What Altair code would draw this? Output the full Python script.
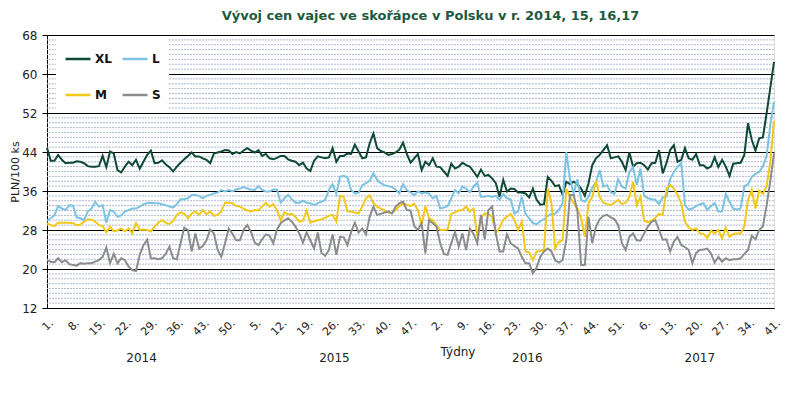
import altair as alt
import pandas as pd

# --- data (weekly prices, PLN/100 ks), 2014 w1 .. 2017 w41 ---
years = [2014] * 52 + [2015] * 52 + [2016] * 52 + [2017] * 41

xl = [44.9, 42.2, 42.2, 43.4, 42.4, 41.7, 41.8, 41.8, 42.1, 42.0,
      41.7, 41.1, 41.0, 41.0, 41.1, 43.2, 40.9, 44.1, 43.7, 40.3,
      39.8, 41.0, 42.0, 41.3, 42.4, 40.6, 42.0, 43.4, 44.3, 41.7,
      41.8, 42.3, 41.5, 40.9, 40.0, 41.0, 41.8, 42.5, 43.2, 43.9,
      43.1, 43.1, 42.7, 42.4, 41.7, 43.7, 43.9, 44.1, 44.4, 44.3,
      43.6, 44.0, 43.7, 44.3, 44.8, 44.3, 43.9, 44.4, 43.2, 43.6,
      42.7, 42.5, 42.8, 43.2, 43.2, 42.5, 42.2, 42.0, 41.3, 41.8,
      40.6, 40.1, 42.2, 43.1, 42.9, 42.7, 42.9, 44.8, 42.0, 43.2,
      43.2, 43.7, 43.6, 45.5, 44.1, 42.7, 42.9, 45.8, 47.8, 44.8,
      44.2, 43.9, 43.4, 43.6, 43.9, 44.5, 45.9, 43.6, 41.8, 42.7,
      43.6, 40.3, 42.0, 41.3, 42.7, 41.0, 40.9, 40.0, 39.1, 41.6,
      40.6, 41.0, 41.8, 41.3, 41.0, 40.0, 38.9, 40.4, 39.1, 39.3,
      38.6, 37.6, 34.8, 38.3, 35.9, 36.5, 36.4, 35.7, 35.7, 35.5,
      34.7, 36.5, 34.2, 33.2, 33.3, 38.9, 38.1, 37.0, 37.2, 35.2,
      37.9, 37.4, 37.9, 37.4, 36.5, 35.0, 37.6, 41.3, 42.7, 43.4,
      44.4, 45.4, 42.7, 42.9, 43.1, 42.0, 40.3, 43.9, 41.0, 41.7,
      41.8, 41.3, 40.4, 41.7, 41.8, 44.4, 39.6, 41.7, 44.4, 45.4,
      42.0, 42.4, 44.8, 42.7, 42.4, 43.6, 41.3, 41.3, 40.6, 41.0,
      42.9, 40.9, 42.4, 41.0, 39.1, 41.6, 41.7, 41.8, 43.4, 49.9,
      46.5, 44.3, 46.8, 47.0, 51.9, 57.1, 62.5]

l = [29.9, 30.4, 31.0, 32.9, 32.4, 32.1, 33.1, 33.0, 30.6, 30.4,
     30.0, 31.8, 32.4, 33.8, 32.8, 33.1, 29.5, 32.1, 31.8, 30.7,
     31.0, 31.8, 32.1, 32.4, 32.4, 32.8, 33.3, 33.5, 33.6, 33.5,
     33.5, 33.3, 33.1, 32.8, 32.6, 33.3, 34.3, 34.3, 34.5, 35.2,
     35.2, 35.0, 34.5, 35.0, 35.2, 35.5, 35.7, 36.2, 35.9, 36.2,
     35.9, 36.3, 36.5, 36.8, 36.5, 36.3, 36.2, 37.0, 36.2, 35.9,
     35.9, 36.3, 36.3, 33.6, 34.5, 35.2, 34.3, 33.6, 33.6, 34.0,
     33.6, 33.5, 33.1, 33.5, 33.8, 34.2, 36.2, 37.4, 35.4, 38.9,
     39.1, 38.8, 36.2, 35.5, 35.6, 37.2, 37.6, 38.1, 39.6, 38.3,
     37.6, 37.2, 37.0, 36.8, 36.3, 35.5, 37.4, 36.2, 35.7, 35.2,
     35.9, 35.5, 35.7, 35.5, 34.5, 35.0, 32.4, 32.6, 32.9, 34.5,
     36.2, 35.5, 36.9, 36.5, 35.7, 36.9, 37.7, 34.8, 34.8, 35.0,
     34.8, 35.0, 34.2, 35.4, 34.5, 34.3, 31.4, 31.8, 34.8, 31.3,
     30.4, 29.4, 29.2, 29.8, 30.2, 30.9, 31.3, 31.4, 32.1, 33.5,
     44.0, 38.4, 35.5, 38.4, 34.2, 33.8, 34.8, 36.7, 37.7, 40.3,
     36.9, 37.2, 35.7, 35.4, 38.4, 36.9, 36.5, 39.9, 40.9, 37.2,
     40.6, 35.0, 34.5, 34.3, 34.2, 33.3, 34.7, 34.8, 38.4, 39.9,
     41.0, 41.7, 33.1, 32.2, 32.4, 32.9, 33.3, 33.5, 32.1, 32.9,
     33.5, 31.8, 31.8, 35.4, 33.8, 32.4, 32.2, 32.4, 37.0, 37.4,
     38.9, 39.5, 39.9, 41.0, 43.1, 49.5, 54.3]

m = [29.4, 29.0, 28.8, 29.5, 29.5, 29.5, 29.5, 29.4, 29.0, 29.1,
     29.7, 30.2, 30.1, 29.7, 29.0, 28.8, 27.5, 28.7, 27.7, 27.9,
     28.3, 27.7, 28.3, 27.3, 29.4, 28.0, 28.1, 28.0, 27.7, 28.7,
     29.5, 30.0, 29.5, 29.2, 29.9, 31.1, 31.6, 31.3, 30.4, 31.4,
     31.8, 31.1, 32.1, 31.2, 31.8, 30.9, 31.1, 31.8, 33.6, 33.6,
     33.5, 32.9, 32.8, 32.4, 32.0, 31.8, 32.1, 32.0, 32.8, 33.6,
     32.8, 33.3, 32.1, 30.0, 31.6, 31.2, 31.3, 30.7, 29.7, 29.9,
     32.0, 29.5, 29.8, 30.0, 30.2, 30.5, 30.9, 31.1, 29.7, 35.0,
     34.8, 31.8, 31.8, 31.6, 31.4, 32.8, 34.5, 35.1, 33.5, 32.8,
     32.4, 32.0, 31.6, 31.4, 32.1, 32.9, 33.5, 33.2, 32.9, 33.4,
     32.1, 29.0, 32.9, 30.4, 30.0, 29.0, 28.0, 28.0, 28.1, 31.3,
     31.6, 32.0, 32.1, 32.8, 31.8, 32.4, 26.7, 30.4, 31.4, 31.3,
     30.7, 27.3, 28.5, 30.1, 30.7, 31.3, 30.1, 28.0, 29.7, 23.6,
     23.4, 21.8, 23.6, 23.7, 23.9, 36.5, 33.5, 24.2, 25.6, 25.9,
     36.5, 34.8, 33.5, 32.4, 30.4, 26.6, 33.5, 34.8, 38.1, 34.8,
     33.6, 33.3, 33.1, 33.6, 34.2, 33.3, 33.6, 34.8, 37.9, 33.1,
     34.8, 29.9, 29.6, 29.9, 30.5, 31.3, 31.1, 36.5, 37.2, 36.5,
     35.2, 33.5, 29.7, 28.5, 28.0, 28.3, 27.3, 27.2, 26.3, 27.9,
     27.3, 28.0, 26.3, 28.5, 26.6, 27.2, 27.3, 27.3, 28.7, 34.2,
     36.2, 32.4, 36.1, 35.4, 37.0, 42.0, 50.4]

s = [21.8, 21.5, 21.4, 22.2, 21.4, 21.8, 21.0, 20.8, 20.7, 21.2,
     21.1, 21.2, 21.2, 21.5, 21.8, 22.5, 24.4, 21.2, 23.1, 21.2,
     22.2, 21.8, 20.5, 19.8, 19.6, 22.9, 24.9, 26.0, 22.2, 22.2,
     22.0, 22.2, 23.1, 24.6, 22.2, 22.0, 25.3, 28.5, 28.0, 23.6,
     27.3, 24.2, 24.7, 25.9, 28.1, 27.3, 23.9, 22.5, 25.3, 28.3,
     27.2, 25.9, 25.9, 28.0, 29.0, 27.6, 25.4, 24.9, 26.1, 27.1,
     26.8, 25.3, 28.1, 29.4, 30.0, 30.4, 29.7, 28.7, 27.3, 25.4,
     27.5, 25.9, 24.2, 27.5, 23.3, 22.7, 23.9, 27.1, 22.9, 26.6,
     26.5, 24.9, 27.6, 29.5, 27.5, 28.3, 27.1, 30.7, 32.8, 31.1,
     31.3, 31.6, 31.8, 31.4, 32.8, 33.5, 33.8, 32.1, 32.0, 28.8,
     28.0, 29.4, 23.2, 30.0, 29.4, 28.7, 25.3, 23.1, 22.9, 25.3,
     27.6, 24.6, 27.3, 23.9, 28.3, 27.2, 25.3, 31.1, 26.1, 32.1,
     32.8, 27.3, 23.6, 23.6, 27.1, 25.3, 24.7, 24.2, 22.5, 21.2,
     21.2, 19.1, 20.3, 22.5, 23.6, 24.2, 23.6, 21.8, 21.3, 21.8,
     25.9, 35.2, 35.2, 31.8, 20.8, 20.8, 30.7, 25.3, 28.7, 30.2,
     30.9, 31.1, 30.6, 30.2, 29.0, 25.3, 23.9, 26.6, 27.3, 25.9,
     25.8, 27.3, 28.7, 29.7, 30.0, 28.0, 26.0, 26.1, 23.6, 25.6,
     26.6, 24.9, 24.5, 23.9, 21.2, 23.3, 23.9, 24.0, 24.2, 23.2,
     21.3, 22.5, 21.5, 22.2, 21.8, 22.0, 22.0, 22.2, 23.1, 23.9,
     26.8, 26.1, 28.0, 28.7, 33.0, 38.0, 43.7]

series_names = ["XL", "L", "M", "S"]
series_colors = ["#0e4a36", "#7cc3e2", "#f2c81a", "#8c8c8c"]
y_ticks = [12, 20, 28, 36, 44, 52, 60, 68]
title_text = "Vývoj cen vajec ve skořápce v Polsku  v r. 2014, 15, 16,17"

# --- tables ---
n = len(xl)
idx = list(range(n))
rows = []
for name, vals in zip(series_names, [xl, l, m, s]):
    for i, v in enumerate(vals):
        rows.append({"i": i, "series": name, "value": v, "order": series_names.index(name)})
df = pd.DataFrame(rows)

minor = pd.DataFrame({"v": [v for v in range(13, 68) if (v - 12) % 8 != 0]})

yr = pd.DataFrame({"i": idx, "year": [str(y) for y in years]})
year_pos = yr.groupby("year", as_index=False)["i"].mean()

x_scale = alt.Scale(domain=[0, n - 1], nice=False, zero=False)
y_scale = alt.Scale(domain=[12, 68], nice=False, zero=False)

label_expr = ("(datum.value < 52 ? datum.value + 1 : datum.value < 104 ? datum.value - 51 : "
              "datum.value < 156 ? datum.value - 103 : datum.value - 155) + '.'")

x_axis = alt.Axis(values=list(range(0, n, 7)), labelExpr=label_expr, labelAngle=-45,
                  labelFontSize=11, labelFont="DejaVu Sans", ticks=False, grid=False,
                  labelOverlap=False, labelBound=False, labelFlush=False,
                  domainColor="black", domainWidth=1, title=None, labelPadding=9,
                  labelColor="#222222")
y_axis = alt.Axis(values=y_ticks, grid=True, gridColor="black", gridWidth=1,
                  tickColor="black", tickSize=5, domainColor="black",
                  title="PLN/100 ks", titleFontSize=11, titleFontWeight="normal",
                  titleFont="DejaVu Sans", titleColor="#222222", titlePadding=1,
                  labelFontSize=12, labelFont="DejaVu Sans", labelPadding=5,
                  labelColor="#222222")

rules = alt.Chart(minor).mark_rule(color="#aeb9d6", strokeDash=[2, 1], strokeWidth=1).encode(
    y=alt.Y("v:Q", scale=y_scale, axis=y_axis)
)

lines = alt.Chart(df).mark_line(strokeWidth=2).encode(
    x=alt.X("i:Q", scale=x_scale, axis=x_axis),
    y=alt.Y("value:Q", scale=y_scale, axis=y_axis),
    color=alt.Color("series:N",
                    scale=alt.Scale(domain=series_names, range=series_colors),
                    legend=alt.Legend(title=None, orient="none", legendX=9, legendY=2,
                                      direction="horizontal",
                                      columns=2, fillColor="white", padding=8,
                                      symbolType="stroke", symbolSize=625,
                                      symbolStrokeWidth=2.5, labelFontSize=12,
                                      labelFontWeight="bold", labelFont="DejaVu Sans",
                                      labelColor="#111111",
                                      rowPadding=16, columnPadding=5, labelOffset=3)),
    order=alt.Order("order:Q"),
)

years_txt = alt.Chart(year_pos).mark_text(fontSize=12, font="DejaVu Sans", color="#222222").encode(
    x=alt.X("i:Q", scale=x_scale, axis=x_axis),
    y=alt.value(323),
    text="year:N",
)

weeks_txt = alt.Chart(pd.DataFrame({"t": ["Týdny"]})).mark_text(
    fontSize=12, font="DejaVu Sans", color="#222222").encode(
    x=alt.value(411), y=alt.value(317), text="t:N")

chart = alt.layer(rules, lines, years_txt, weeks_txt).properties(
    width=727, height=273,
    autosize=alt.AutoSizeParams(type="none"),
    padding={"left": 39, "top": 27, "right": 15, "bottom": 77},
    title=alt.TitleParams(title_text, fontSize=13, font="DejaVu Sans",
                          fontWeight="bold", color="#1e5a40", anchor="middle",
                          dx=20, offset=6),
).configure_view(strokeWidth=0).configure_axis(labelOverlap=False).configure(background="white")

chart.save("out.html", embed_options={"renderer": "svg", "actions": False})
